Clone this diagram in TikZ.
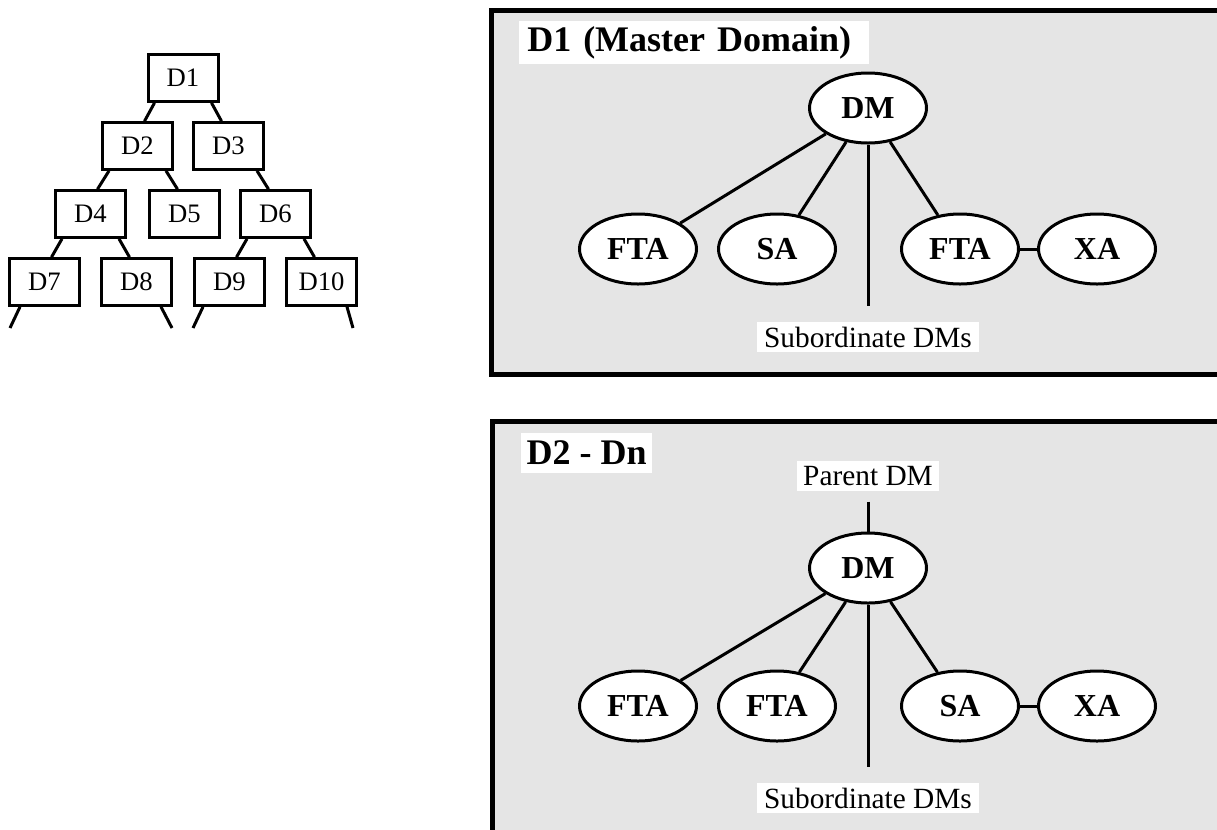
\documentclass[tikz,border=0pt]{standalone}
\usepackage{fontspec}
\setmainfont{Liberation Serif}
\usetikzlibrary{shapes.geometric}
\begin{document}
\begin{tikzpicture}[x=0.75pt,y=-0.75pt,level distance=51pt]
  \tikzstyle{dombox}=[draw,line width=2.25pt,minimum width=52.5pt,minimum height=35pt,inner sep=0pt,font=\fontsize{20}{24}\selectfont]
  \tikzstyle{lft}=[edge from parent path={([xshift=6pt]\tikzparentnode.south west) -- ([xshift=5.25pt]\tikzchildnode.north)}]
  \tikzstyle{rgt}=[edge from parent path={([xshift=-6pt]\tikzparentnode.south east) -- ([xshift=-5.25pt]\tikzchildnode.north)}]
  \tikzstyle{edge from parent}=[draw,line width=2.25pt]
  \tikzstyle{level 1}=[sibling distance=68.25pt,nodes=dombox]
  \tikzstyle{level 2}=[sibling distance=70.5pt,nodes=dombox]
  \tikzstyle{level 3}=[sibling distance=69pt,nodes=dombox]
  \tikzstyle{agent}=[ellipse,draw,fill=white,line width=2.25pt,minimum width=87.75pt,minimum height=52.5pt,inner sep=0pt,font=\bfseries\fontsize{24}{28}\selectfont]
  \tikzstyle{panel}=[draw,fill=black!10,line width=3.75pt]
  \tikzstyle{ptitle}=[fill=white,inner ysep=0pt,anchor=west,font=\bfseries\fontsize{27}{32}\selectfont]
  \tikzstyle{plabel}=[fill=white,inner xsep=5pt,inner ysep=0pt,minimum height=22pt,font=\fontsize{22}{26}\selectfont]
  \tikzstyle{link}=[line width=2.25pt]
  \useasboundingbox (0,0) rectangle (1217,829);
  % domain tree
  \node[dombox] (d1) at (183,78) {D1}
     child[lft] {node (d2) {D2}
       child[lft] {node (d4) {D4}
         child[lft] {node (d7) {D7}}
         child[rgt] {node (d8) {D8}}
       }
       child[rgt] {node (d5) {D5}}
     }
     child[rgt] {node (d3) {D3}
       child[missing]
       child[rgt] {node (d6) {D6}
         child[lft] {node (d9) {D9}}
         child[rgt] {node (d10) {D10}}
       }
     };
  \coordinate (d7end) at (10,328);
  \coordinate (d8end) at (172,328);
  \coordinate (d9end) at (193,328);
  \coordinate (d10end) at (353,328);
  \draw[link] ([xshift=9pt]d7.south west) -- (d7end);
  \draw[link] ([xshift=-9pt]d8.south east) -- (d8end);
  \draw[link] ([xshift=7.5pt]d9.south west) -- (d9end);
  \draw[link] ([xshift=-8.25pt]d10.south east) -- (d10end);
  % master domain
  \draw[panel] (491,10) rectangle (1235,374);
  \node[ptitle,text width=250pt,inner xsep=6pt,minimum height=32pt] (title1) at (519,42.5) {D1 (Master Domain)};
  \node[agent] (dm1) at (868,108) {DM};
  \node[agent] (fta1) at (638,249) {FTA};
  \node[agent] (sa1) at (777,249) {SA};
  \node[agent] (fta2) at (960,249) {FTA};
  \node[agent] (xa1) at (1097,249) {XA};
  \node[plabel] (sub1) at (868,337) {Subordinate DMs};
  \draw[link] (dm1) -- (fta1);
  \draw[link] (dm1) -- (sa1);
  \draw[link] (dm1) -- (fta2);
  \draw[link] (fta2) -- (xa1);
  \draw[link,shorten >=12pt] (dm1) -- (sub1);
  % other domains
  \draw[panel] (492,421) rectangle (1235,850);
  \node[ptitle,inner xsep=4pt,minimum height=30pt] (title2) at (521,453) {D2 - Dn};
  \node[plabel] (par2) at (868,476) {Parent DM};
  \node[agent] (dm2) at (868,568) {DM};
  \node[agent] (fta3) at (638,706) {FTA};
  \node[agent] (fta4) at (777,706) {FTA};
  \node[agent] (sa2) at (960,706) {SA};
  \node[agent] (xa2) at (1097,706) {XA};
  \node[plabel] (sub2) at (868,798) {Subordinate DMs};
  \draw[link,shorten <=8pt] (par2) -- (dm2);
  \draw[link] (dm2) -- (fta3);
  \draw[link] (dm2) -- (fta4);
  \draw[link] (dm2) -- (sa2);
  \draw[link] (sa2) -- (xa2);
  \draw[link,shorten >=12pt] (dm2) -- (sub2);
\end{tikzpicture}
\end{document}
